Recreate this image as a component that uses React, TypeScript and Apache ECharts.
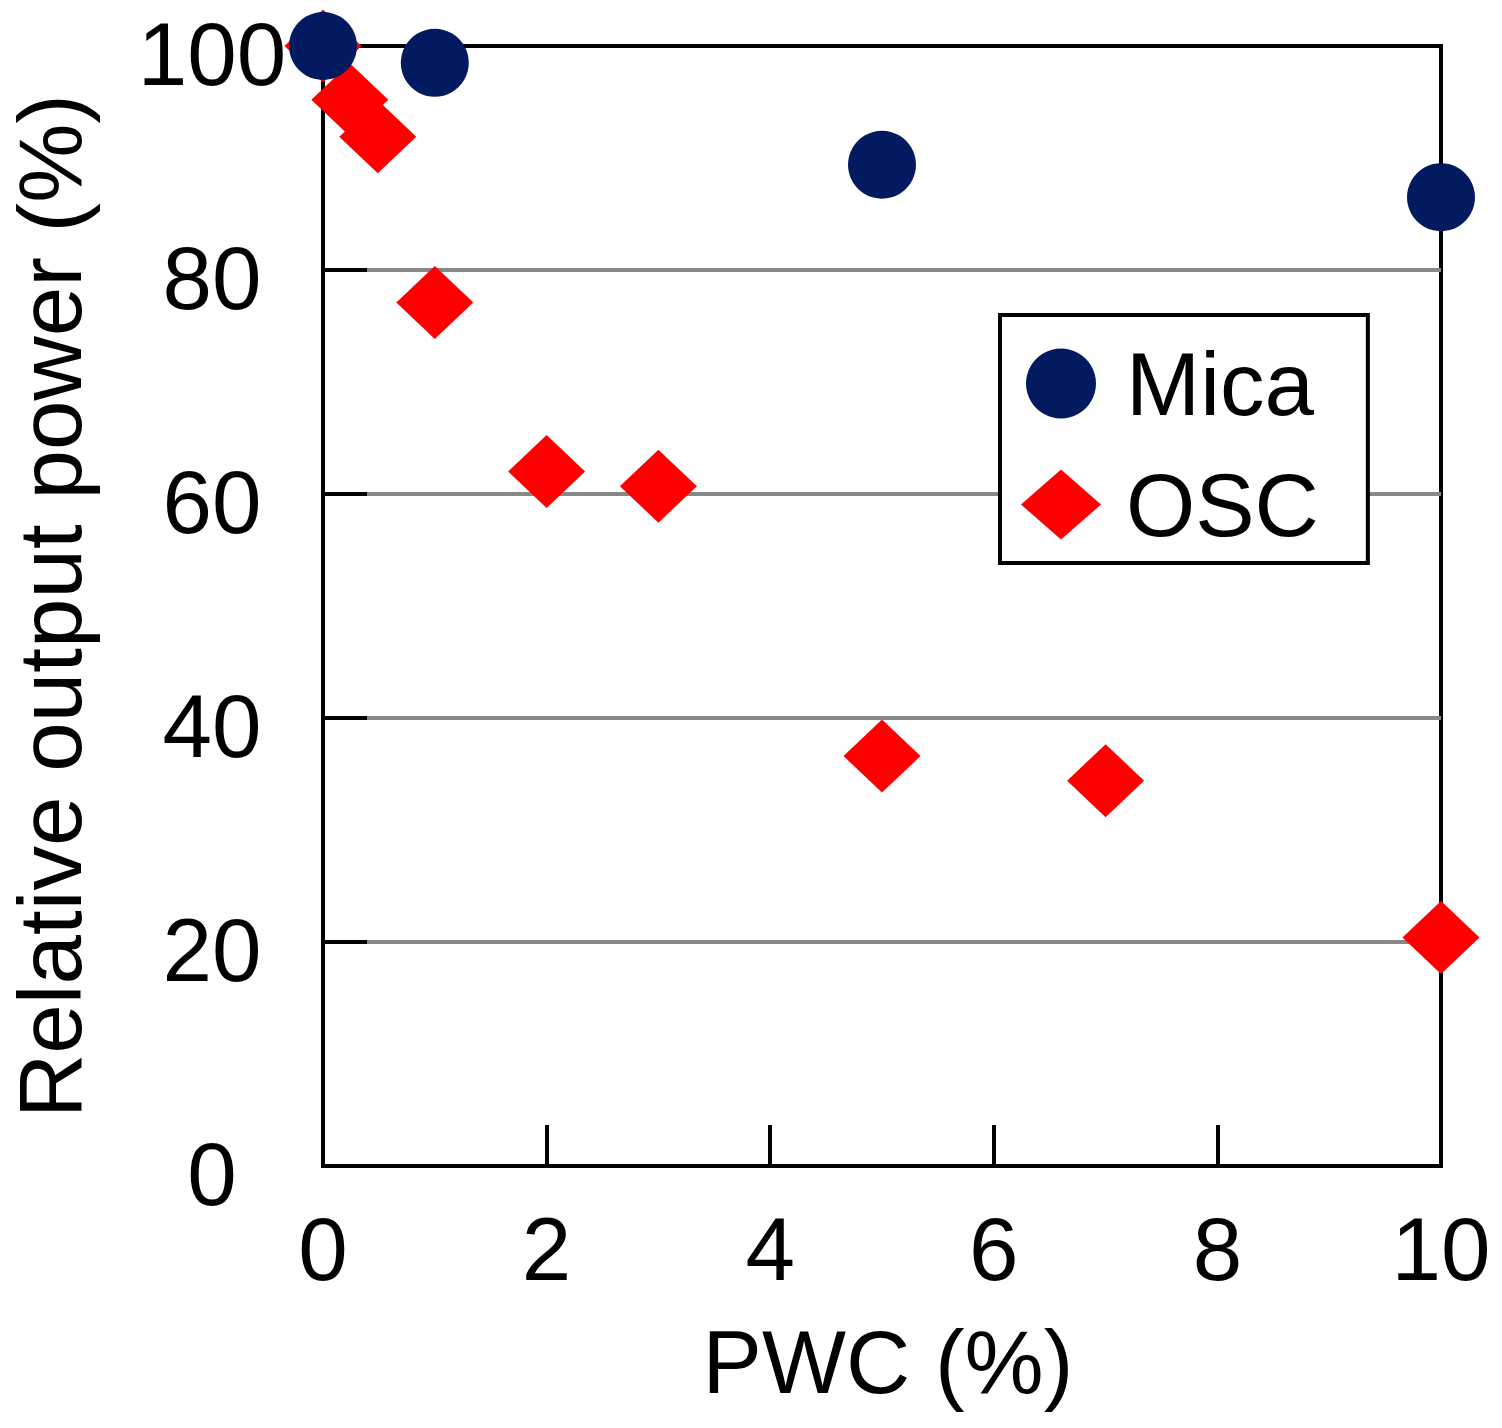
import React, { useEffect, useRef } from "react";
import * as echarts from "echarts";

const micaX = [0, 1, 5, 10];
const micaY = [100, 98.5, 89.4, 86.5];

const oscX = [0, 0.24, 0.49, 1, 2, 3, 5, 7, 10];
const oscY = [100, 95.2, 91.9, 77.1, 62.0, 60.7, 36.6, 34.4, 20.4];

const xTicks = [0, 2, 4, 6, 8, 10];
const yTicks = [0, 20, 40, 60, 80, 100];

const seriesNames = ["Mica", "OSC"];

const FONT = "'Liberation Sans', Arial, Helvetica, sans-serif";

export default function App() {
  const ref = useRef<HTMLDivElement>(null);

  useEffect(() => {
    document.body.style.margin = "0";
    if (!ref.current) return;
    const chart = echarts.init(ref.current, undefined, { renderer: "svg" });
    const micaData = micaX.map((x, i) => [x, micaY[i]]);
    const oscData = oscX.map((x, i) => [x, oscY[i]]);
    chart.setOption({
      animation: false,
      backgroundColor: "#ffffff",
      textStyle: { fontFamily: FONT },
      grid: {
        left: 323,
        top: 46,
        right: 61,
        bottom: 262,
        containLabel: false,
        outerBoundsMode: "none",
        show: true,
        borderColor: "#000000",
        borderWidth: 4,
        backgroundColor: "transparent",
      },
      legend: {
        data: seriesNames,
        orient: "vertical",
        left: 1000,
        top: 315,
        padding: [24, 49, 14, 21],
        itemWidth: 80,
        itemHeight: 70,
        itemGap: 32,
        borderColor: "#000000",
        borderWidth: 4,
        backgroundColor: "#ffffff",
        selectedMode: false,
        textStyle: {
          fontSize: 89,
          color: "#000000",
          fontFamily: FONT,
          padding: [0, 0, 0, 20],
        },
      },
      xAxis: {
        type: "value",
        min: xTicks[0],
        max: xTicks[xTicks.length - 1],
        interval: 2,
        name: "PWC (%)",
        nameLocation: "middle",
        nameGap: 196,
        nameTextStyle: {
          fontSize: 89,
          color: "#000000",
          fontFamily: FONT,
          verticalAlign: "middle",
          padding: [0, 0, 0, 12],
        },
        axisLine: { show: true, lineStyle: { color: "#000000", width: 4 } },
        axisTick: {
          show: true,
          inside: true,
          length: 41,
          lineStyle: { color: "#000000", width: 4 },
        },
        axisLabel: {
          fontSize: 89,
          color: "#000000",
          fontFamily: FONT,
          margin: 38,
        },
        splitLine: { show: false },
      },
      yAxis: {
        type: "value",
        min: yTicks[0],
        max: yTicks[yTicks.length - 1],
        interval: 20,
        name: "Relative output power (%)",
        nameLocation: "middle",
        nameGap: 273,
        nameRotate: 90,
        nameTextStyle: {
          fontSize: 89,
          lineHeight: 80,
          color: "#000000",
          fontFamily: FONT,
          verticalAlign: "middle",
        },
        axisLine: { show: true, lineStyle: { color: "#000000", width: 4 } },
        axisTick: {
          show: true,
          inside: true,
          length: 44,
          lineStyle: { color: "#000000", width: 4 },
        },
        axisLabel: {
          fontSize: 89,
          color: "#000000",
          fontFamily: FONT,
          align: "center",
          verticalAlign: "top",
          lineHeight: 16,
          margin: 111,
        },
        splitLine: {
          show: true,
          lineStyle: {
            color: ["#000000", "#888888", "#888888", "#888888", "#888888", "#000000"],
            width: 4,
          },
        },
      },
      series: [
        {
          name: seriesNames[1],
          type: "scatter",
          symbol: "diamond",
          symbolSize: [77, 73],
          clip: false,
          itemStyle: { color: "#ff0000", opacity: 1 },
          data: oscData,
          z: 2,
        },
        {
          name: seriesNames[0],
          type: "scatter",
          symbol: "circle",
          symbolSize: 68,
          clip: false,
          itemStyle: { color: "#021a5f", opacity: 1 },
          data: micaData,
          z: 3,
        },
      ],
    });
    return () => chart.dispose();
  }, []);

  return (
    <div
      ref={ref}
      style={{ position: "absolute", left: 0, top: 0, width: 1502, height: 1428 }}
    />
  );
}
